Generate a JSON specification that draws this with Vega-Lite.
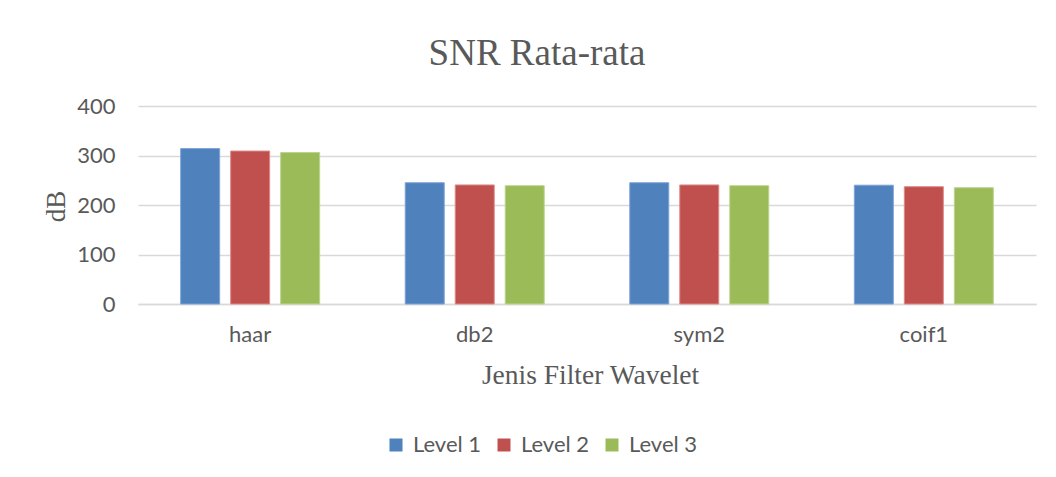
{
  "$schema": "https://vega.github.io/schema/vega-lite/v6.json",
  "width": 898,
  "height": 198,
  "autosize": {"type": "none"},
  "padding": {"left": 138, "top": 106, "right": 20, "bottom": 173},
  "background": "white",
  "title": {
    "text": "SNR Rata-rata",
    "font": "Liberation Serif",
    "fontSize": 37,
    "fontWeight": "normal",
    "color": "#595959",
    "anchor": "middle",
    "frame": "group",
    "baseline": "alphabetic",
    "dx": -50,
    "offset": -7
  },
  "data": {
    "values": [
      {"filter": "haar", "level": "Level 1", "snr": 314},
      {"filter": "haar", "level": "Level 2", "snr": 309},
      {"filter": "haar", "level": "Level 3", "snr": 306},
      {"filter": "db2", "level": "Level 1", "snr": 245},
      {"filter": "db2", "level": "Level 2", "snr": 240.5},
      {"filter": "db2", "level": "Level 3", "snr": 239},
      {"filter": "sym2", "level": "Level 1", "snr": 245},
      {"filter": "sym2", "level": "Level 2", "snr": 240.5},
      {"filter": "sym2", "level": "Level 3", "snr": 239},
      {"filter": "coif1", "level": "Level 1", "snr": 240},
      {"filter": "coif1", "level": "Level 2", "snr": 237},
      {"filter": "coif1", "level": "Level 3", "snr": 235}
    ]
  },
  "mark": {"type": "bar", "strokeWidth": 1},
  "encoding": {
    "x": {
      "field": "filter",
      "type": "nominal",
      "sort": ["haar", "db2", "sym2", "coif1"],
      "scale": {"paddingInner": 0.381, "paddingOuter": 0.19},
      "axis": {
        "title": "Jenis Filter Wavelet",
        "titleFont": "Liberation Serif",
        "titleFontSize": 27.5,
        "titleFontWeight": "normal",
        "titleColor": "#595959",
        "titleX": 452,
        "titleY": 79,
        "titleBaseline": "alphabetic",
        "labelAngle": 0,
        "labelFont": "Lato",
        "labelFontSize": 22,
        "labelColor": "#595959",
        "labelPadding": 20,
        "ticks": false,
        "domainColor": "#d9d9d9",
        "domainWidth": 1.5
      }
    },
    "xOffset": {
      "field": "level",
      "type": "nominal",
      "scale": {"paddingInner": 0.22, "paddingOuter": 0}
    },
    "y": {
      "field": "snr",
      "type": "quantitative",
      "scale": {"domain": [0, 400]},
      "axis": {
        "title": "dB",
        "titleFont": "Liberation Serif",
        "titleFontSize": 27,
        "titleFontWeight": "normal",
        "titleColor": "#595959",
        "titleX": -74,
        "titleY": 100,
        "titleAngle": -90,
        "titleBaseline": "alphabetic",
        "titleAlign": "center",
        "values": [0, 100, 200, 300, 400],
        "labelFont": "Lato",
        "labelFontSize": 22,
        "labelColor": "#595959",
        "labelPadding": 23,
        "ticks": false,
        "domain": false,
        "gridColor": "#d9d9d9",
        "gridWidth": 1.5
      }
    },
    "color": {
      "field": "level",
      "type": "nominal",
      "scale": {"domain": ["Level 1", "Level 2", "Level 3"], "range": ["#4F81BD", "#C0504D", "#9BBB59"]},
      "legend": {
        "title": null,
        "orient": "none",
        "direction": "horizontal",
        "legendX": 247,
        "legendY": 328,
        "symbolType": "square",
        "symbolSize": 169,
        "symbolStrokeWidth": 0,
        "labelFont": "Lato",
        "labelFontSize": 22,
        "labelColor": "#595959",
        "labelOffset": 6,
        "columnPadding": 11
      }
    },
    "stroke": {
      "field": "level",
      "type": "nominal",
      "scale": {"domain": ["Level 1", "Level 2", "Level 3"], "range": ["#7FA3D6", "#DB8B89", "#BCD48E"]},
      "legend": null
    }
  },
  "config": {"view": {"stroke": null}}
}
